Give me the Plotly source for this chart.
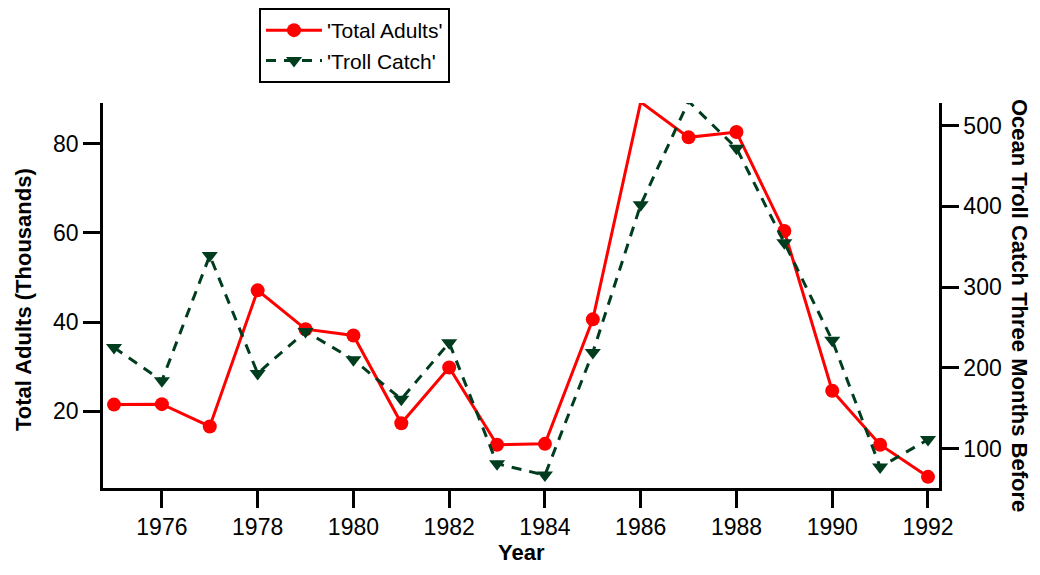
import plotly.graph_objects as go

years = list(range(1975, 1993))
total_adults = [21.5, 21.6, 16.6, 47.1, 38.4, 37.0, 17.3, 29.8, 12.5, 12.7,
                40.6, 89.3, 81.4, 82.6, 60.4, 24.6, 12.5, 5.3]
troll_catch = [225, 184, 339, 193, 245, 210, 161, 231, 81, 67,
               219, 402, 530, 472, 355, 234, 77, 111]
x_ticks = list(range(1976, 1993, 2))
left_ticks = [20, 40, 60, 80]
right_ticks = [100, 200, 300, 400, 500]

FONT = "Liberation Sans, Arial, sans-serif"
GREEN = "#003d1f"

# page has an 8px body margin, so the figure is 16px smaller than the window
W, H = 1024, 559
ML, MR, MT, MB = 95, 93, 95, 79
PW, PH = W - ML - MR, H - MT - MB

fig = go.Figure()
fig.add_trace(go.Scatter(
    x=years, y=total_adults, name="'Total Adults'", mode="lines+markers",
    line=dict(color="#ff0000", width=3),
    marker=dict(symbol="circle", size=14, color="#ff0000"),
    cliponaxis=False, yaxis="y"))
fig.add_trace(go.Scatter(
    x=years, y=troll_catch, name="'Troll Catch'", mode="lines+markers",
    line=dict(color=GREEN, width=3, dash="10px,8px"),
    marker=dict(symbol="triangle-down", size=14, color=GREEN),
    cliponaxis=False, yaxis="y2"))

axis_common = dict(showline=True, linecolor="black", linewidth=2.5,
                   ticks="outside", ticklen=17, tickwidth=2.5, tickcolor="black",
                   showgrid=False, zeroline=False, automargin=False,
                   tickfont=dict(family=FONT, size=23, color="black"))

fig.update_layout(
    width=W, height=H,
    margin=dict(l=ML, r=MR, t=MT, b=MB, autoexpand=False),
    paper_bgcolor="white", plot_bgcolor="white",
    font=dict(family=FONT, color="black"),
    xaxis=dict(range=[1974.77, 1992.23], tickvals=x_ticks, **axis_common),
    yaxis=dict(range=[2.8, 89.1], tickvals=left_ticks, **axis_common),
    yaxis2=dict(range=[51, 528], tickvals=right_ticks, overlaying="y", side="right",
                **axis_common),
    legend=dict(x=(251 - ML) / PW, y=1 + MT / PH, xanchor="left", yanchor="top",
                bordercolor="black", borderwidth=2, bgcolor="white",
                font=dict(family=FONT, size=21, color="black"),
                tracegroupgap=0, itemwidth=56),
    showlegend=True,
)

title_font = dict(family=FONT, size=22, color="black")
fig.add_annotation(text="<b>Year</b>", xref="paper", yref="paper",
                   x=0.5, y=(H - MB - 544) / PH, xanchor="center", yanchor="middle",
                   showarrow=False, font=title_font, borderpad=0)
fig.add_annotation(text="<b>Total Adults (Thousands)</b>", textangle=-90,
                   xref="paper", yref="paper", x=(15 - ML) / PW, y=(H - MB - 292) / PH,
                   xanchor="center", yanchor="middle", showarrow=False, font=title_font)
fig.add_annotation(text="<b>Ocean Troll Catch Three Months Before</b>", textangle=90,
                   xref="paper", yref="paper", x=(1012 - ML) / PW, y=(H - MB - 297) / PH,
                   xanchor="center", yanchor="middle", showarrow=False, font=title_font)

fig.write_html("out.html")
